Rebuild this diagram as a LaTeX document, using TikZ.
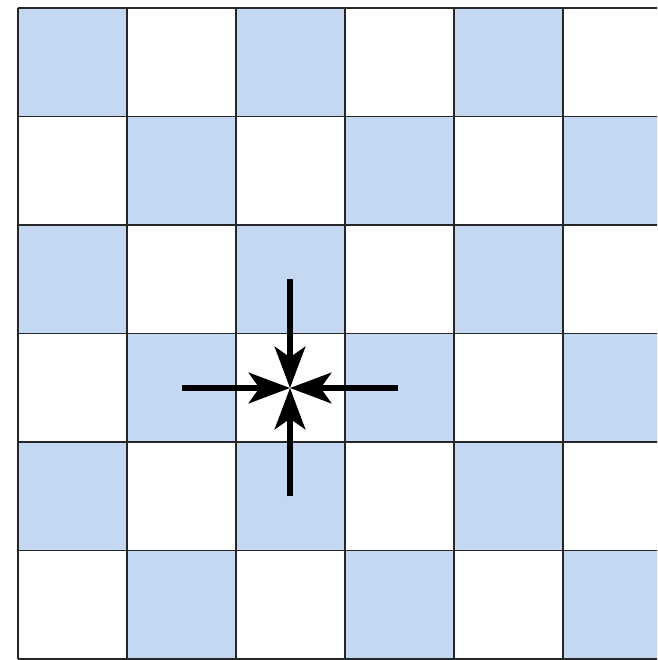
\documentclass[tikz,border=0pt]{standalone}
\usetikzlibrary{arrows.meta}
\definecolor{cellblue}{RGB}{197,216,242}
\begin{document}
\begin{tikzpicture}[x=0.75pt,y=-0.75pt,
  gridline/.style={draw=black!85, line width=0.9pt},
  ray/.style={line width=4pt, -{Stealth[length=31pt,width=23pt,inset=8pt]}}]
\useasboundingbox (0,0) rectangle (657,660);
\clip (0,0) rectangle (657,660);
\fill[white] (0,0) rectangle (657,660);
\foreach \r in {0,...,5} {
  \pgfmathtruncatemacro\off{mod(\r,2)}
  \foreach \c in {0,2,4} {
    \fill[cellblue] ({18+(\c+\off)*109},{8+\r*108.5}) rectangle +(109,108.5);
  }
}
\foreach \c in {0,...,6} {
  \draw[gridline] ({18+\c*109},8) -- ({18+\c*109},659);
}
\foreach \r in {0,...,6} {
  \draw[gridline] (18,{8+\r*108.5}) -- (680,{8+\r*108.5});
}
\coordinate (c) at (290,388);
\coordinate (top) at (290,279);
\coordinate (bot) at (290,496);
\coordinate (left) at (182,388);
\coordinate (right) at (398,388);
\draw[ray] (top) -- (c);
\draw[ray] (bot) -- (c);
\draw[ray] (left) -- (c);
\draw[ray] (right) -- (c);
\end{tikzpicture}
\end{document}
